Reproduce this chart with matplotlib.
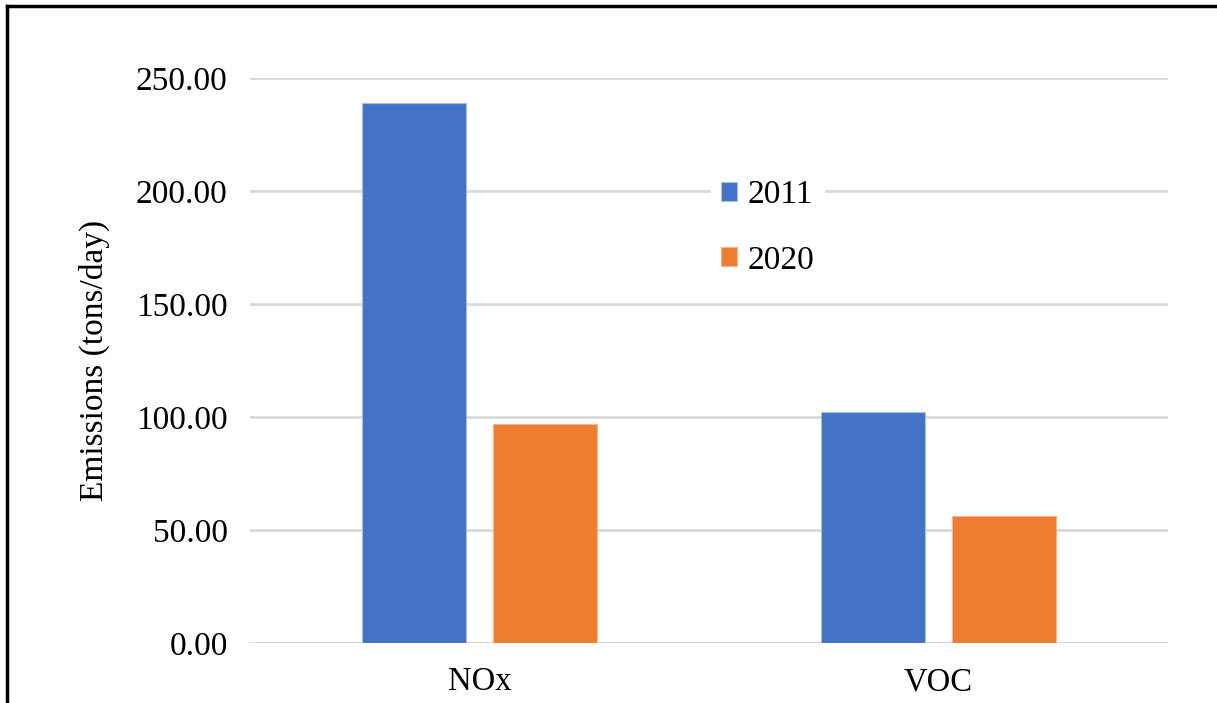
import numpy as np
import matplotlib.pyplot as plt
from matplotlib.lines import Line2D

# Data
categories = ["NOx", "VOC"]
years = ["2011", "2020"]
values_2011 = [238.9, 102.2]
values_2020 = [96.9, 56.2]
colors = ["#4472C4", "#ED7D31"]

plt.rcParams['font.family'] = ['Liberation Serif', 'DejaVu Serif']

fig = plt.figure(figsize=(12.17, 7.03), dpi=100)
ax = fig.add_axes([0.2054, 0.0853, 0.7543, 0.8037])

x = np.arange(len(categories))
width = 0.227
offset = 0.143
ax.bar(x - offset, values_2011, width, color=colors[0], edgecolor='#a9bfe6', linewidth=0.8, label=years[0], zorder=3)
ax.bar(x + offset, values_2020, width, color=colors[1], edgecolor='#f3b58a', linewidth=0.8, label=years[1], zorder=3)

ax.set_xlim(-0.5, 1.5)
ax.set_ylim(0, 250)
ax.set_yticks(np.arange(0, 251, 50))
ax.set_yticklabels([f"{v:.2f}" for v in np.arange(0, 251, 50)], fontsize=24)
ax.set_xticks(x)
ax.set_xticklabels(categories, fontsize=23.5)
ax.tick_params(axis='y', length=0, pad=16)
ax.tick_params(axis='x', length=0, pad=17)
ax.grid(axis='y', color='#d9d9d9', linewidth=2, zorder=0)
for s in ax.spines.values():
    s.set_visible(False)
ax.set_ylabel("Emissions (tons/day)", fontsize=24, labelpad=19)

leg = ax.legend(loc='upper left', bbox_to_anchor=(0.502, 0.838), fontsize=24,
                frameon=True, framealpha=1, edgecolor='white', facecolor='white',
                handlelength=0.5, handleheight=0.5, handletextpad=0.3,
                labelspacing=1.05, borderpad=0.3, borderaxespad=0, fancybox=False)
leg.set_zorder(5)

# outer frame lines (left and top)
fig.add_artist(Line2D([0.0058, 0.0058], [0, 0.9915], transform=fig.transFigure, color='black', linewidth=2.5))
fig.add_artist(Line2D([0.0058, 1.0], [0.9915, 0.9915], transform=fig.transFigure, color='black', linewidth=2.5))

fig.savefig("out.png", dpi=100)
